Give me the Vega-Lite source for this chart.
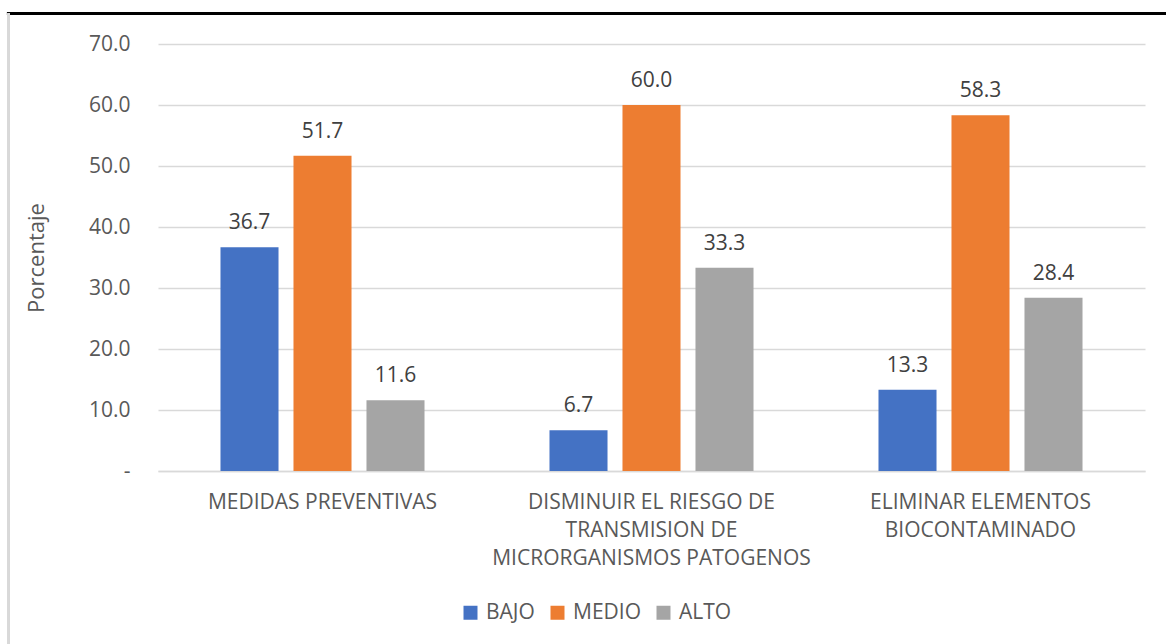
{
  "$schema": "https://vega.github.io/schema/vega-lite/v6.json",
  "autosize": {"type": "none"},
  "padding": {"left": 158, "top": 44, "right": 21, "bottom": 173},
  "width": 987,
  "height": 427,
  "background": "white",
  "config": {
    "font": "Open Sans",
    "view": {"stroke": null}
  },
  "data": {
    "values": [
      {"categoria": "MEDIDAS PREVENTIVAS", "nivel": "BAJO", "porcentaje": 36.7},
      {"categoria": "MEDIDAS PREVENTIVAS", "nivel": "MEDIO", "porcentaje": 51.7},
      {"categoria": "MEDIDAS PREVENTIVAS", "nivel": "ALTO", "porcentaje": 11.6},
      {"categoria": "DISMINUIR EL RIESGO DE TRANSMISION DE MICRORGANISMOS PATOGENOS", "nivel": "BAJO", "porcentaje": 6.7},
      {"categoria": "DISMINUIR EL RIESGO DE TRANSMISION DE MICRORGANISMOS PATOGENOS", "nivel": "MEDIO", "porcentaje": 60.0},
      {"categoria": "DISMINUIR EL RIESGO DE TRANSMISION DE MICRORGANISMOS PATOGENOS", "nivel": "ALTO", "porcentaje": 33.3},
      {"categoria": "ELIMINAR ELEMENTOS BIOCONTAMINADO", "nivel": "BAJO", "porcentaje": 13.3},
      {"categoria": "ELIMINAR ELEMENTOS BIOCONTAMINADO", "nivel": "MEDIO", "porcentaje": 58.3},
      {"categoria": "ELIMINAR ELEMENTOS BIOCONTAMINADO", "nivel": "ALTO", "porcentaje": 28.4}
    ]
  },
  "encoding": {
    "x": {
      "field": "categoria",
      "type": "nominal",
      "sort": null,
      "scale": {"paddingInner": 0, "paddingOuter": 0},
      "axis": {
        "title": null,
        "labelAngle": 0,
        "labelFontSize": 21,
        "labelColor": "#595959",
        "labelLineHeight": 28,
        "labelPadding": 20,
        "labelLimit": 0,
        "ticks": false,
        "domainColor": "#d9d9d9",
        "domainWidth": 1.5,
        "labelExpr": "datum.label == 'DISMINUIR EL RIESGO DE TRANSMISION DE MICRORGANISMOS PATOGENOS' ? ['DISMINUIR EL RIESGO DE', 'TRANSMISION DE', 'MICRORGANISMOS PATOGENOS'] : datum.label == 'ELIMINAR ELEMENTOS BIOCONTAMINADO' ? ['ELIMINAR ELEMENTOS', 'BIOCONTAMINADO'] : datum.label"
      }
    },
    "xOffset": {
      "field": "nivel",
      "type": "nominal",
      "sort": ["BAJO", "MEDIO", "ALTO"],
      "scale": {"paddingInner": 0.205, "paddingOuter": 0.856}
    },
    "y": {
      "field": "porcentaje",
      "type": "quantitative",
      "scale": {"domain": [0, 70], "nice": false},
      "axis": {
        "title": "Porcentaje",
        "titleFontSize": 22,
        "titleFontWeight": "normal",
        "titleColor": "#595959",
        "titlePadding": 40,
        "values": [0, 10, 20, 30, 40, 50, 60, 70],
        "labelExpr": "datum.value == 0 ? '-' : format(datum.value, '.1f')",
        "labelFontSize": 21,
        "labelColor": "#595959",
        "labelPadding": 28,
        "ticks": false,
        "domain": false,
        "gridColor": "#d9d9d9",
        "gridWidth": 1.5
      }
    }
  },
  "layer": [
    {
      "mark": {"type": "bar"},
      "encoding": {
        "color": {
          "field": "nivel",
          "type": "nominal",
          "sort": ["BAJO", "MEDIO", "ALTO"],
          "scale": {"domain": ["BAJO", "MEDIO", "ALTO"], "range": ["#4472C4", "#ED7D31", "#A5A5A5"]},
          "legend": {
            "title": null,
            "orient": "none",
            "direction": "horizontal",
            "legendX": 302,
            "legendY": 558,
            "padding": 0,
            "symbolType": "square",
            "symbolSize": 196,
            "symbolStrokeWidth": 0,
            "labelFontSize": 21,
            "labelColor": "#595959",
            "labelOffset": 5,
            "columnPadding": 12
          }
        }
      }
    },
    {
      "mark": {"type": "text", "baseline": "alphabetic", "dy": -18, "fontSize": 21, "color": "#404040"},
      "encoding": {
        "text": {"field": "porcentaje", "type": "quantitative", "format": ".1f"}
      }
    },
    {
      "mark": {"type": "rule", "color": "#000000", "strokeWidth": 3, "clip": false},
      "encoding": {
        "x": {"datum": "MEDIDAS PREVENTIVAS", "bandPosition": -0.459},
        "x2": {"datum": "ELIMINAR ELEMENTOS BIOCONTAMINADO", "bandPosition": 1.064},
        "y": {"datum": 75},
        "xOffset": null
      }
    },
    {
      "mark": {"type": "rule", "color": "#d9d9d9", "strokeWidth": 2.5, "clip": false},
      "encoding": {
        "x": {"datum": "MEDIDAS PREVENTIVAS", "bandPosition": -0.4538},
        "y": {"datum": 75},
        "y2": {"datum": -28.4},
        "xOffset": null
      }
    }
  ]
}
